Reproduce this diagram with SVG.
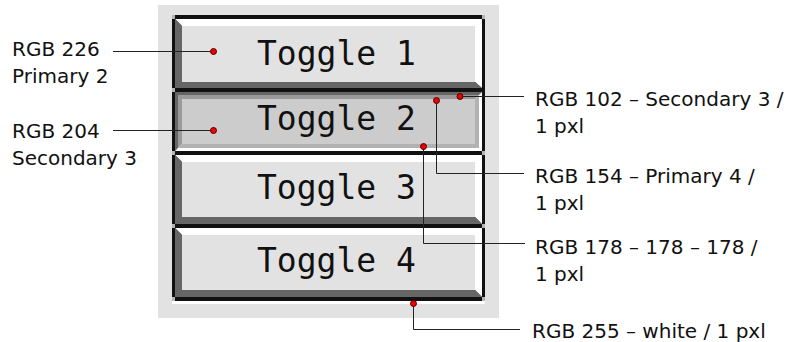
<svg xmlns="http://www.w3.org/2000/svg" width="807" height="342" viewBox="0 0 807 342">
<style>
.lbl{font-family:"DejaVu Sans",sans-serif;font-size:20px;fill:#111}
.tg{font-family:"DejaVu Sans Mono",monospace;font-size:33px;fill:#111}
.ln{fill:none;stroke:#222;stroke-width:1}
.dot{fill:#ee0000;stroke:#500;stroke-width:1}
.w{fill:#fff}.d{fill:#666}.f1{fill:#e2e2e2}.cp{fill:#b4b4b4}
</style>
<rect width="807" height="342" fill="#fff"/>
<g id="panel">
<rect x="158" y="5" width="341" height="313" fill="#e2e2e2"/>
<rect x="172" y="15" width="313" height="286" fill="#111"/>
<rect x="172" y="301" width="313" height="3" fill="#fff"/>
<rect class="cp" x="172" y="15" width="3" height="4"/>
<rect class="cp" x="482" y="15" width="3" height="4"/>
<rect class="cp" x="172" y="88" width="3" height="4"/>
<rect class="cp" x="172" y="151" width="3" height="4"/>
<rect class="cp" x="172" y="224" width="3" height="4"/>
<rect class="cp" x="172" y="297" width="3" height="4"/>
<rect class="cp" x="482" y="151" width="3" height="4"/>
<rect class="cp" x="482" y="224" width="3" height="4"/>
<rect class="cp" x="482" y="297" width="3" height="4"/>
</g>
<g id="toggle1">
<polygon class="w" points="175,19 482,19 482,88 475,82 475,26 182,26"/>
<polygon class="d" points="175,19 182,26 182,82 475,82 482,88 175,88"/>
<rect class="f1" x="182" y="26" width="293" height="56"/>
<text class="tg" x="257" y="65">Toggle 1</text>
</g>
<g id="toggle2">
<rect x="175" y="92" width="307" height="59" fill="#fff"/>
<polygon fill="#666" points="175,92 482,92 479,95 178,95 178,148 175,151"/>
<polygon fill="#9a9a9a" points="178,95 479,95 475,99 182,99 182,144 178,148"/>
<polygon fill="#b2b2b2" points="178,148 182,144 475,144 475,99 479,95 479,148"/>
<rect x="182" y="99" width="293" height="45" fill="#cccccc"/>
<text class="tg" x="257" y="130">Toggle 2</text>
</g>
<g id="toggle3">
<polygon class="w" points="175,155 482,155 482,224 475,217 475,162 182,162"/>
<polygon class="d" points="175,155 182,162 182,217 475,217 482,224 175,224"/>
<rect class="f1" x="182" y="162" width="293" height="55"/>
<text class="tg" x="257" y="199">Toggle 3</text>
</g>
<g id="toggle4">
<polygon class="w" points="175,228 482,228 482,297 475,290 475,235 182,235"/>
<polygon class="d" points="175,228 182,235 182,290 475,290 482,297 175,297"/>
<rect class="f1" x="182" y="235" width="293" height="55"/>
<text class="tg" x="257" y="272">Toggle 4</text>
</g>
<g id="connectors">
<path class="ln" d="M113 51.5H213"/>
<path class="ln" d="M113 130.5H213"/>
<path class="ln" d="M460 96.5H524"/>
<path class="ln" d="M436.5 101V173.5H524"/>
<path class="ln" d="M423.5 147V243.5H525"/>
<path class="ln" d="M413.5 303V329.5H520"/>
<circle class="dot" cx="213.5" cy="51.5" r="3"/>
<circle class="dot" cx="213.5" cy="130.5" r="3"/>
<circle class="dot" cx="460" cy="96.5" r="3"/>
<circle class="dot" cx="436.5" cy="100.5" r="3"/>
<circle class="dot" cx="423.5" cy="146.5" r="3"/>
<circle class="dot" cx="413.5" cy="303.5" r="3"/>
</g>
<g id="label-226"><text class="lbl" x="12" y="56">RGB 226</text><text class="lbl" x="12" y="83">Primary 2</text></g>
<g id="label-204"><text class="lbl" x="12" y="138">RGB 204</text><text class="lbl" x="12" y="165">Secondary 3</text></g>
<g id="label-102"><text class="lbl" x="535" y="106">RGB 102 – Secondary 3 /</text><text class="lbl" x="535" y="133">1 pxl</text></g>
<g id="label-154"><text class="lbl" x="535" y="183">RGB 154 – Primary 4 /</text><text class="lbl" x="535" y="210">1 pxl</text></g>
<g id="label-178"><text class="lbl" x="535" y="254">RGB 178 – 178 – 178 /</text><text class="lbl" x="535" y="281">1 pxl</text></g>
<g id="label-255"><text class="lbl" x="532" y="338">RGB 255 – white / 1 pxl</text></g>
</svg>
